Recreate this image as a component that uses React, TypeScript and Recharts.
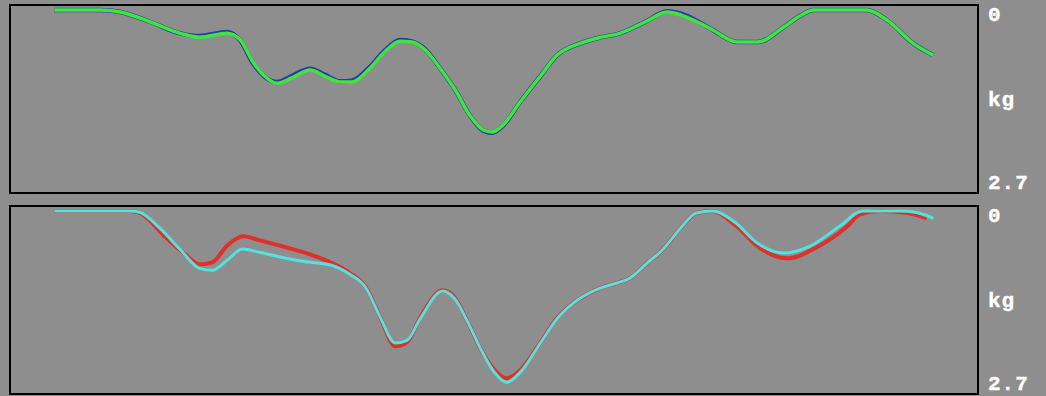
import React from 'react';
import { LineChart, Line, XAxis, YAxis, ReferenceArea } from 'recharts';

// time axis (0..100 s across the trace), load in kg (0 at the top)
const greenTrace = [
  { t: 4.6, kg: 0 }, { t: 9.3, kg: 0 }, { t: 11.4, kg: 0.03 }, { t: 14.5, kg: 0.18 },
  { t: 17.6, kg: 0.35 }, { t: 19.6, kg: 0.41 }, { t: 22.4, kg: 0.35 }, { t: 23.8, kg: 0.45 },
  { t: 25.1, kg: 0.78 }, { t: 26.3, kg: 0.99 }, { t: 27.6, kg: 1.1 }, { t: 29.1, kg: 1.02 },
  { t: 31.0, kg: 0.9 }, { t: 32.5, kg: 0.99 }, { t: 34.1, kg: 1.08 }, { t: 35.3, kg: 1.08 },
  { t: 37.2, kg: 0.87 }, { t: 38.7, kg: 0.63 }, { t: 40.3, kg: 0.47 }, { t: 41.5, kg: 0.48 },
  { t: 42.9, kg: 0.6 }, { t: 44.4, kg: 0.87 }, { t: 46.0, kg: 1.2 }, { t: 47.5, kg: 1.58 },
  { t: 48.9, kg: 1.8 }, { t: 49.8, kg: 1.83 }, { t: 50.9, kg: 1.73 }, { t: 52.7, kg: 1.38 },
  { t: 54.8, kg: 0.99 }, { t: 56.5, kg: 0.68 }, { t: 58.9, kg: 0.5 }, { t: 61.0, kg: 0.41 },
  { t: 63.0, kg: 0.35 }, { t: 65.6, kg: 0.18 }, { t: 67.9, kg: 0.03 }, { t: 69.4, kg: 0.08 },
  { t: 71.3, kg: 0.2 }, { t: 72.6, kg: 0.3 }, { t: 75.1, kg: 0.48 }, { t: 77.3, kg: 0.48 },
  { t: 79.9, kg: 0.26 }, { t: 81.6, kg: 0.09 }, { t: 83.0, kg: 0 }, { t: 85.7, kg: 0 },
  { t: 88.5, kg: 0 }, { t: 90.6, kg: 0.15 }, { t: 93.3, kg: 0.5 }, { t: 95.4, kg: 0.68 },
];

const blueTrace = [
  { t: 4.6, kg: 0 }, { t: 9.3, kg: 0 }, { t: 11.4, kg: 0.03 }, { t: 14.5, kg: 0.18 },
  { t: 17.6, kg: 0.35 }, { t: 19.6, kg: 0.39 }, { t: 22.4, kg: 0.33 }, { t: 23.8, kg: 0.46 },
  { t: 25.1, kg: 0.8 }, { t: 26.3, kg: 1.0 }, { t: 27.6, kg: 1.08 }, { t: 29.1, kg: 0.99 },
  { t: 31.0, kg: 0.88 }, { t: 32.5, kg: 0.97 }, { t: 34.1, kg: 1.07 }, { t: 35.3, kg: 1.06 },
  { t: 37.2, kg: 0.85 }, { t: 38.7, kg: 0.61 }, { t: 40.3, kg: 0.45 }, { t: 41.5, kg: 0.47 },
  { t: 42.9, kg: 0.59 }, { t: 44.4, kg: 0.87 }, { t: 46.0, kg: 1.2 }, { t: 47.5, kg: 1.58 },
  { t: 48.9, kg: 1.81 }, { t: 49.8, kg: 1.84 }, { t: 50.9, kg: 1.74 }, { t: 52.7, kg: 1.38 },
  { t: 54.8, kg: 0.99 }, { t: 56.5, kg: 0.68 }, { t: 58.9, kg: 0.5 }, { t: 61.0, kg: 0.41 },
  { t: 63.0, kg: 0.35 }, { t: 65.6, kg: 0.18 }, { t: 67.9, kg: 0.02 }, { t: 69.4, kg: 0.06 },
  { t: 71.3, kg: 0.19 }, { t: 72.6, kg: 0.3 }, { t: 75.1, kg: 0.48 }, { t: 77.3, kg: 0.48 },
  { t: 79.9, kg: 0.26 }, { t: 81.6, kg: 0.09 }, { t: 83.0, kg: 0 }, { t: 85.7, kg: 0 },
  { t: 88.5, kg: 0 }, { t: 90.6, kg: 0.15 }, { t: 93.3, kg: 0.5 }, { t: 95.4, kg: 0.68 },
];

const redTrace = [
  { t: 4.6, kg: 0 }, { t: 12.4, kg: 0 }, { t: 13.4, kg: 0.03 }, { t: 16.2, kg: 0.41 },
  { t: 18.1, kg: 0.65 }, { t: 19.6, kg: 0.8 }, { t: 20.9, kg: 0.77 }, { t: 22.5, kg: 0.51 },
  { t: 24.1, kg: 0.38 }, { t: 25.8, kg: 0.44 }, { t: 28.4, kg: 0.54 }, { t: 31.0, kg: 0.65 },
  { t: 33.1, kg: 0.77 }, { t: 35.1, kg: 0.93 }, { t: 36.7, kg: 1.13 }, { t: 38.2, kg: 1.58 },
  { t: 39.8, kg: 2.03 }, { t: 41.0, kg: 1.97 }, { t: 42.4, kg: 1.59 }, { t: 44.7, kg: 1.19 },
  { t: 45.9, kg: 1.29 }, { t: 47.3, kg: 1.67 }, { t: 48.8, kg: 2.12 }, { t: 50.1, kg: 2.39 },
  { t: 51.3, kg: 2.51 }, { t: 52.7, kg: 2.39 }, { t: 54.8, kg: 1.97 }, { t: 56.5, kg: 1.61 },
  { t: 58.9, kg: 1.31 }, { t: 60.9, kg: 1.16 }, { t: 62.7, kg: 1.08 }, { t: 64.0, kg: 1.01 },
  { t: 65.9, kg: 0.77 }, { t: 67.5, kg: 0.57 }, { t: 69.2, kg: 0.27 }, { t: 70.9, kg: 0.03 },
  { t: 72.6, kg: 0 }, { t: 74.9, kg: 0.21 }, { t: 77.5, kg: 0.56 }, { t: 80.3, kg: 0.71 },
  { t: 83.4, kg: 0.54 }, { t: 86.5, kg: 0.23 }, { t: 87.8, kg: 0.05 }, { t: 89.9, kg: 0 },
  { t: 92.7, kg: 0.03 }, { t: 94.7, kg: 0.11 },
];

const cyanTrace = [
  { t: 4.6, kg: 0 }, { t: 12.4, kg: 0 }, { t: 13.4, kg: 0.02 }, { t: 15.5, kg: 0.26 },
  { t: 17.6, kg: 0.58 }, { t: 19.6, kg: 0.86 }, { t: 20.9, kg: 0.89 }, { t: 22.5, kg: 0.73 },
  { t: 24.0, kg: 0.57 }, { t: 25.8, kg: 0.62 }, { t: 27.9, kg: 0.69 }, { t: 30.0, kg: 0.75 },
  { t: 33.1, kg: 0.81 }, { t: 35.1, kg: 0.95 }, { t: 36.7, kg: 1.14 }, { t: 38.2, kg: 1.58 },
  { t: 39.8, kg: 1.98 }, { t: 41.0, kg: 1.94 }, { t: 42.4, kg: 1.61 }, { t: 44.7, kg: 1.2 },
  { t: 45.9, kg: 1.31 }, { t: 47.3, kg: 1.67 }, { t: 48.8, kg: 2.12 }, { t: 50.1, kg: 2.43 },
  { t: 51.3, kg: 2.57 }, { t: 52.7, kg: 2.42 }, { t: 54.8, kg: 1.98 }, { t: 56.5, kg: 1.62 },
  { t: 58.9, kg: 1.31 }, { t: 60.9, kg: 1.16 }, { t: 62.7, kg: 1.08 }, { t: 64.0, kg: 1.01 },
  { t: 65.9, kg: 0.77 }, { t: 67.5, kg: 0.57 }, { t: 69.2, kg: 0.27 }, { t: 70.9, kg: 0.03 },
  { t: 72.6, kg: 0 }, { t: 74.9, kg: 0.17 }, { t: 77.2, kg: 0.48 }, { t: 79.9, kg: 0.63 },
  { t: 82.6, kg: 0.53 }, { t: 85.7, kg: 0.23 }, { t: 88.1, kg: 0 }, { t: 91.9, kg: 0 },
  { t: 93.5, kg: 0.02 }, { t: 95.4, kg: 0.11 },
];

const tickValues = [0, 1.35, 2.7];
const tickLabels = ['0', 'kg', '2.7'];
const tickShift = [5, 0, -7];
const kgDomain = [-0.075, 2.745];
const timeDomain = [0, 100];

const BG = '#8e8e8e';

const ScaleTick = (props: any) => {
  const { x, y, index } = props;
  return (
    <text
      x={x + 2}
      y={y + tickShift[index]}
      fill="#ffffff"
      stroke="#ffffff"
      strokeWidth={0.4}
      textAnchor="start"
      dominantBaseline="central"
      fontFamily="'Liberation Mono', 'DejaVu Sans Mono', monospace"
      fontWeight="bold"
      fontSize={21}
      letterSpacing={1}
    >
      {tickLabels[index]}
    </text>
  );
};

const Panel = ({ top, children }: { top: number; children: React.ReactNode }) => (
  <LineChart
    width={1046}
    height={198}
    margin={{ top, right: 8, bottom: 10 - top, left: 10 }}
  >
    <XAxis type="number" dataKey="t" domain={timeDomain} hide allowDuplicatedCategory={false} />
    <YAxis
      type="number"
      orientation="right"
      width={60}
      reversed
      domain={kgDomain}
      ticks={tickValues}
      allowDataOverflow
      axisLine={false}
      tickLine={false}
      interval={0}
      tick={<ScaleTick />}
    />
    <ReferenceArea
      x1={timeDomain[0]}
      x2={timeDomain[1]}
      y1={kgDomain[0]}
      y2={kgDomain[1]}
      fill="none"
      stroke="#000000"
      strokeWidth={2}
      ifOverflow="visible"
    />
    {children}
  </LineChart>
);

export default function App() {
  return (
    <div style={{ position: 'absolute', left: 0, top: 0, width: 1046, height: 396, background: BG }}>
      <Panel top={5}>
        <Line data={blueTrace} dataKey="kg" type="monotone" stroke="#2a3aa8" strokeWidth={4.5} dot={false} isAnimationActive={false} />
        <Line data={greenTrace} dataKey="kg" type="monotone" stroke="#3fe63a" strokeWidth={3.5} dot={false} isAnimationActive={false} />
      </Panel>
      <Panel top={8}>
        <Line data={redTrace} dataKey="kg" type="monotone" stroke="#e0302a" strokeWidth={4} dot={false} isAnimationActive={false} />
        <Line data={cyanTrace} dataKey="kg" type="monotone" stroke="#52e2e0" strokeWidth={3} dot={false} isAnimationActive={false} />
      </Panel>
    </div>
  );
}
